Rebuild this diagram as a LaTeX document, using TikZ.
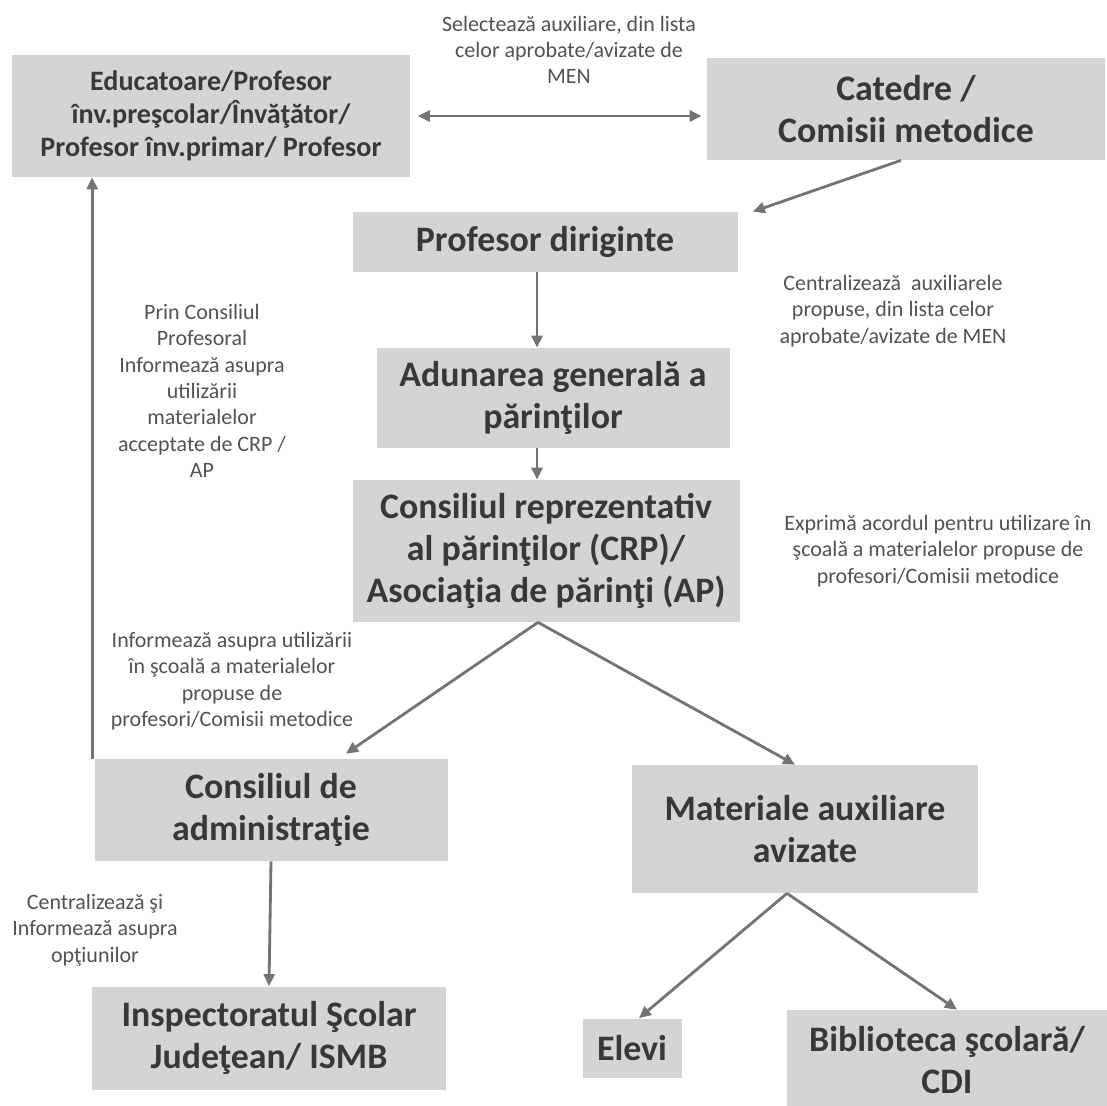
\documentclass[tikz,border=0pt]{standalone}
\usepackage{fontspec}
\setmainfont{Carlito}
\usetikzlibrary{positioning,arrows.meta,calc}
\definecolor{figgrey}{gray}{0.83}
\definecolor{figdark}{gray}{0.22}
\definecolor{fignote}{gray}{0.32}
\definecolor{figline}{gray}{0.45}
\tikzset{
  fig/.style={x=0.2mm,y=-0.2mm},
  box/.style 2 args={fill=figgrey,minimum width=#1*0.2mm,minimum height=#2*0.2mm,
              align=center,inner sep=2pt,text=figdark,
              font=\fontsize{20.4}{24}\selectfont\bfseries},
  ln/.style={-{Triangle[length=2.4mm,width=2.2mm]},line width=1.6pt,figline},
  lnb/.style={{Triangle[length=2.4mm,width=2.2mm]}-{Triangle[length=2.4mm,width=2.2mm]},
              line width=1.6pt,figline},
  note/.style={font=\fontsize{12.5}{15}\selectfont,text=fignote,align=center,inner sep=1pt},
}

\begin{document}
\begin{tikzpicture}[fig]
\useasboundingbox (0,0) rectangle (1107,1105);

% ------------------------------------------------ top row
\node[box={398}{122},font=\fontsize{16}{18.8}\selectfont\bfseries] (edu) at (211,116)
  {Educatoare/Profesor\\ înv.preşcolar/Învăţător/\\ Profesor înv.primar/ Profesor};
\node[box={398}{102}] (cat) at (906,109) {Catedre /\\ Comisii metodice};
\node[note] (selnote) at (569,50)
  {Selectează auxiliare, din lista\\ celor aprobate/avizate de\\ MEN};

% ------------------------------------------------ middle column
\node[box={385}{60}] (dir) at (545,242) {Profesor diriginte};
\node[box={353}{100}] (adu) at (553,398) {Adunarea generală a\\ părinţilor};
\node[box={387}{142}] (crp) at (546,551)
  {Consiliul reprezentativ\\ al părinţilor (CRP)/\\ Asociaţia de părinţi (AP)};

\node[note] (cennote) at (893,311)
  {Centralizează\ \ auxiliarele\\ propuse, din lista celor\\ aprobate/avizate de MEN};
\node[note] (expnote) at (938,551)
  {Exprimă acordul pentru utilizare în\\ şcoală a materialelor propuse de\\ profesori/Comisii metodice};
\node[note] (prinnote) at (202,391)
  {Prin Consiliul\\ Profesoral\\ Informează asupra\\ utilizării\\ materialelor\\ acceptate de CRP /\\ AP};
\node[note] (infnote) at (232,681)
  {Informează asupra utilizării\\ în şcoală a materialelor\\ propuse de\\ profesori/Comisii metodice};

% ------------------------------------------------ lower rows
\node[box={353}{102}] (ca) at (271,810) {Consiliul de\\ administraţie};
\node[box={346}{128}] (mat) at (805,829) {Materiale auxiliare\\ avizate};
\node[box={354}{103}] (insp) at (269,1038) {Inspectoratul Şcolar\\ Judeţean/ ISMB};
\node[box={99}{59}] (elevi) at (632,1048) {Elevi};
\node[box={320}{100}] (bib) at (947,1060) {Biblioteca şcolară/\\ CDI};
\node[note] (optnote) at (95,930)
  {Centralizează şi\\ Informează asupra\\ opţiunilor};

% ------------------------------------------------ connectors
\draw[lnb,shorten <=1.5mm,shorten >=1mm] (edu.east) -- (edu.east -| cat.west);
\draw[ln] ([xshift=-1mm]cat.south) -- ([xshift=3mm]dir.north east);
\draw[ln] ([xshift=-1.6mm]dir.south) -- ([xshift=-1.6mm]dir.south |- adu.north);
\draw[ln] ([xshift=-1.6mm]dir.south |- adu.south) -- ([xshift=-1.6mm]dir.south |- crp.north);
\draw[ln] ([xshift=-1.6mm]crp.south) -- ([xshift=15mm,yshift=1mm]ca.north);
\draw[ln] ([xshift=-1.6mm]crp.south) -- ([xshift=-2mm]mat.north);
\draw[ln] ([xshift=-0.4mm]ca.north west) -- ([xshift=-0.4mm]ca.north west |- edu.south);
\draw[ln] (ca.south) -- (insp.north);
\draw[ln] ([xshift=-3.6mm]mat.south) -- ([xshift=1.4mm]elevi.north);
\draw[ln] ([xshift=-3.6mm]mat.south) -- ([xshift=2mm]bib.north);

\end{tikzpicture}
\end{document}
